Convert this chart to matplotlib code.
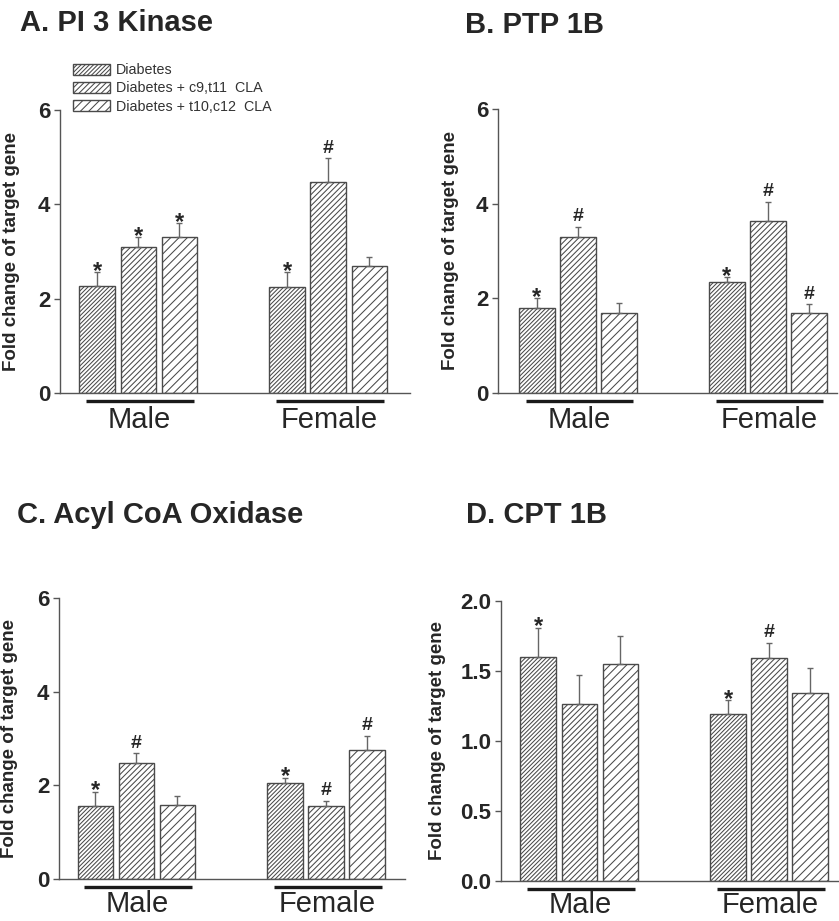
import numpy as np
import matplotlib.pyplot as plt
from matplotlib.transforms import offset_copy

plt.rcParams['font.family'] = ['Liberation Sans', 'DejaVu Sans']
plt.rcParams['hatch.linewidth'] = 0.75

treatments = ['Diabetes', 'Diabetes + c9,t11  CLA', 'Diabetes + t10,c12  CLA']
sexes = ['Male', 'Female']

# fold change; rows = treatment, columns = Male, Female
pi3k_mean = [[2.27, 2.25], [3.10, 4.47], [3.30, 2.69]]
pi3k_err = [[0.29, 0.31], [0.20, 0.51], [0.30, 0.19]]
pi3k_sig = [['*', '*'], ['*', '#'], ['*', '']]

ptp_mean = [[1.80, 2.35], [3.30, 3.64], [1.69, 1.68]]
ptp_err = [[0.20, 0.10], [0.21, 0.40], [0.21, 0.19]]
ptp_sig = [['*', '*'], ['#', '#'], ['', '#']]

acox_mean = [[1.56, 2.06], [2.48, 1.56], [1.58, 2.76]]
acox_err = [[0.30, 0.10], [0.20, 0.11], [0.20, 0.30]]
acox_sig = [['*', '*'], ['#', '#'], ['', '#']]

cpt_mean = [[1.60, 1.19], [1.265, 1.59], [1.55, 1.34]]
cpt_err = [[0.21, 0.10], [0.205, 0.11], [0.20, 0.18]]
cpt_sig = [['*', '*'], ['', '#'], ['', '']]

hatches = ['////////', '//////', '////']
group_x = np.array([0.0, 4.63])
offsets = [-1, 0, 1]
W, H = 839, 921

panels = [
    # title, mean, err, sig, yticks, ylabels, axes box px (l, t, r, b), xlim, title pos, ylabel x, sex label offset
    ('A. PI 3 Kinase', pi3k_mean, pi3k_err, pi3k_sig, [0, 2, 4, 6], ['0', '2', '4', '6'],
     (60, 110, 410, 393), (-1.91, 6.62), (20, 31), 20, -25),
    ('B. PTP 1B', ptp_mean, ptp_err, ptp_sig, [0, 2, 4, 6], ['0', '2', '4', '6'],
     (498, 109, 837, 393), (-1.95, 6.32), (465, 33), 459, -25),
    ('C. Acyl CoA Oxidase', acox_mean, acox_err, acox_sig, [0, 2, 4, 6], ['0', '2', '4', '6'],
     (59, 598, 405, 879), (-1.89, 6.55), (17, 523), 18, -24),
    ('D. CPT 1B', cpt_mean, cpt_err, cpt_sig, [0, 0.5, 1.0, 1.5, 2.0], ['0.0', '0.5', '1.0', '1.5', '2.0'],
     (501, 601, 839, 881), (-1.91, 6.33), (466, 523), 446, -23),
]

fig = plt.figure(figsize=(W / 100, H / 100), dpi=100)
edge = '#4a4a4a'
axis_col = '#555555'
text_col = '#262626'

legend_handles = None
for title, mean, err, sig, yt, ytl, box, xlim, tpos, ylx, sex_off in panels:
    l, t, r, b = box
    ax = fig.add_axes([l / W, 1 - b / H, (r - l) / W, (b - t) / H])
    bars = []
    for i in range(3):
        x = group_x + offsets[i]
        bc = ax.bar(x, mean[i], width=0.87, facecolor='white', edgecolor=edge,
                    hatch=hatches[i], linewidth=1.0, label=treatments[i],
                    yerr=[np.zeros(2), err[i]],
                    error_kw=dict(ecolor='#666666', elinewidth=1.0, capsize=2.5, capthick=1.0))
        bars.append(bc)
        for j in range(2):
            s = sig[i][j]
            if not s:
                continue
            top = mean[i][j] + err[i][j]
            if s == '*':
                ax.annotate(s, (x[j], top), xytext=(0, -4), textcoords='offset points',
                            ha='center', va='baseline', fontsize=17, fontweight='bold', color=text_col)
            else:
                ax.annotate(s, (x[j], top), xytext=(0, 4), textcoords='offset points',
                            ha='center', va='baseline', fontsize=14, fontweight='bold', color=text_col)
    if legend_handles is None:
        legend_handles = bars

    ax.set_xlim(*xlim)
    ax.set_ylim(0, yt[-1])
    ax.set_xticks([])
    ax.set_yticks(yt)
    ax.set_yticklabels(ytl, fontsize=16, fontweight='bold', color=text_col)
    ax.tick_params(axis='y', length=4, width=1, color=axis_col, pad=3)
    for side in ['top', 'right']:
        ax.spines[side].set_visible(False)
    for side in ['left', 'bottom']:
        ax.spines[side].set_color(axis_col)
        ax.spines[side].set_linewidth(1.0)
    ax.set_ylabel('Fold change of target gene', fontsize=13.5, fontweight='bold', color=text_col)
    ax.yaxis.set_label_coords((ylx - l) / (r - l), 0.5)

    # group underline and label below the axis
    below = offset_copy(ax.get_xaxis_transform(), fig=fig, x=0, y=-6, units='points')
    for j, sex in enumerate(sexes):
        gx = group_x[j]
        ax.plot([gx - 1.27, gx + 1.35], [0, 0], color='#1a1a1a', lw=2.4,
                transform=below, clip_on=False, solid_capstyle='butt')
        ax.annotate(sex, (gx + 0.03, 0), xycoords=('data', 'axes fraction'),
                    xytext=(0, sex_off), textcoords='offset points', ha='center', va='baseline',
                    fontsize=21, color=text_col, annotation_clip=False)

    fig.text(tpos[0] / W, 1 - tpos[1] / H, title, fontsize=21, fontweight='bold',
             color=text_col, ha='left', va='baseline')

fig.legend(handles=legend_handles, labels=treatments, loc='upper left',
           bbox_to_anchor=(73 / W, 1 - 63 / H), frameon=False, fontsize=10.3,
           handlelength=2.6, handleheight=0.8, handletextpad=0.4, labelspacing=0.3,
           borderpad=0, borderaxespad=0, labelcolor='#333333')

fig.savefig('out.png', dpi=100, facecolor='white')
